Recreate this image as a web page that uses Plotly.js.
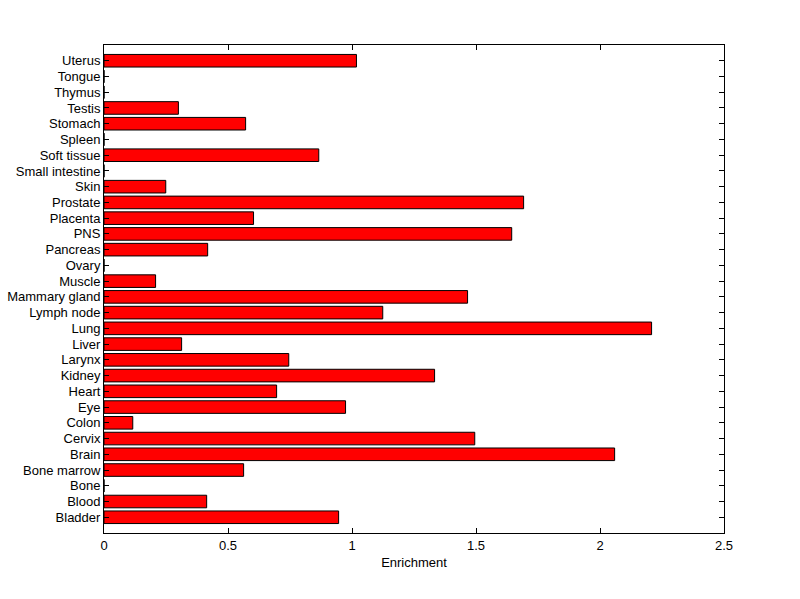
<!DOCTYPE html>
<html>
<head>
<meta charset="utf-8">
<script src="https://cdn.plot.ly/plotly-3.0.1.min.js"></script>
<style>html,body{margin:0;padding:0;background:#fff;}#chart{width:800px;height:599px;}</style>
</head>
<body>
<div id="chart"></div>
<script>
// Categories listed bottom to top
const tissues = ["Bladder","Blood","Bone","Bone marrow","Brain","Cervix","Colon","Eye","Heart","Kidney",
  "Larynx","Liver","Lung","Lymph node","Mammary gland","Muscle","Ovary","Pancreas","PNS","Placenta",
  "Prostate","Skin","Small intestine","Soft tissue","Spleen","Stomach","Testis","Thymus","Tongue","Uterus"];
const enrichment = [0.946,0.414,0,0.563,2.059,1.495,0.116,0.974,0.696,1.333,
  0.745,0.313,2.208,1.124,1.466,0.208,0,0.418,1.644,0.603,
  1.692,0.249,0,0.866,0,0.571,0.300,0,0,1.018];
const xTicks = [0,0.5,1,1.5,2,2.5];
const xTickText = ["0","0.5","1","1.5","2","2.5"];

const trace = {
  type: "bar",
  orientation: "h",
  x: enrichment,
  y: tissues,
  width: 0.8,
  marker: {color: "#ff0000", line: {color: "#000000", width: 1}},
  hoverinfo: "x+y"
};

const layout = {
  width: 800, height: 599,
  paper_bgcolor: "#ffffff", plot_bgcolor: "#ffffff",
  margin: {l: 104, r: 76, t: 45, b: 66},
  showlegend: false,
  font: {family: "Liberation Sans, Arial, sans-serif", size: 13, color: "#000"},
  xaxis: {
    range: [0, 2.5],
    tickmode: "array", tickvals: xTicks, ticktext: xTickText,
    ticks: "inside", ticklen: 5, tickcolor: "#000", tickwidth: 1,
    showline: true, linecolor: "#000", linewidth: 1, mirror: "ticks",
    showgrid: false, zeroline: false,
    tickfont: {size: 13},
    title: {text: "Enrichment", font: {size: 13}, standoff: 6}
  },
  yaxis: {
    type: "category",
    categoryorder: "array", categoryarray: tissues,
    tickmode: "array", tickvals: tissues, ticktext: tissues,
    range: [-1, 30],
    ticks: "inside", ticklen: 5, tickcolor: "#000", tickwidth: 1,
    showline: true, linecolor: "#000", linewidth: 1, mirror: "ticks",
    showgrid: false, zeroline: false,
    tickfont: {size: 13}
  },
  bargap: 0.2
};

Plotly.newPlot("chart", [trace], layout, {displayModeBar: false, staticPlot: true});
</script>
</body>
</html>
